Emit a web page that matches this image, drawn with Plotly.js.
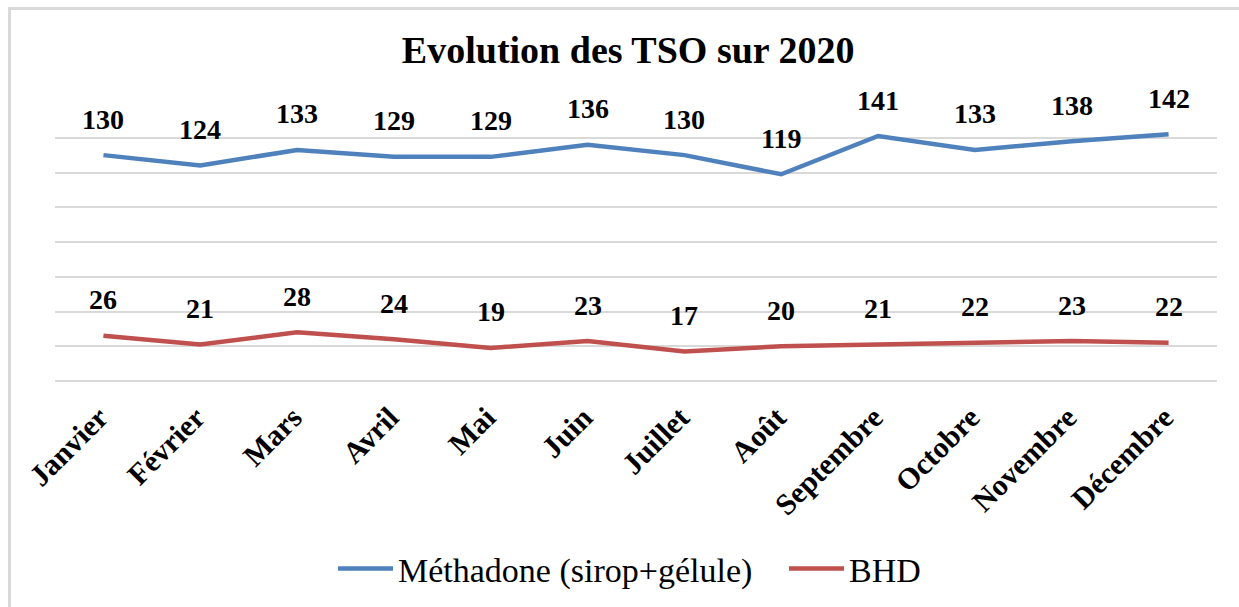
<!DOCTYPE html>
<html>
<head>
<meta charset="utf-8">
<script src="https://cdn.plot.ly/plotly-3.0.1.min.js"></script>
<style>
  body { margin: 0; background: #fff; }
  #myDiv { position: absolute; left: 0; top: 0; width: 1239px; height: 607px; }
  #frame { position: absolute; left: 8px; top: 7px; width: 1300px; height: 700px;
           border-left: 3px solid #d9d9d9; border-top: 3px solid #d9d9d9; pointer-events: none; }
</style>
</head>
<body>
<div id="myDiv"></div>
<div id="frame"></div>
<script>
var months = ["Janvier", "Février", "Mars", "Avril", "Mai", "Juin", "Juillet",
  "Août", "Septembre", "Octobre", "Novembre", "Décembre"];
var methadone = [130, 124, 133, 129, 129, 136, 130, 119, 141, 133, 138, 142];
var bhd = [26, 21, 28, 24, 19, 23, 17, 20, 21, 22, 23, 22];

var serif = "Liberation Serif";

var trace1 = {
  x: months,
  y: methadone,
  name: "Méthadone (sirop+gélule)",
  type: "scatter",
  mode: "lines",
  line: { color: "#4f81bd", width: 4.5 },
};

var trace2 = {
  x: months,
  y: bhd,
  name: "BHD",
  type: "scatter",
  mode: "lines",
  line: { color: "#c0504d", width: 4.5 },
};

// value labels sit above each point
function labels(vals) {
  return vals.map(function (v, i) {
    return {
      x: months[i], y: v, text: "<b>" + v + "</b>",
      showarrow: false, yshift: 36, yanchor: "middle",
      font: { family: serif, size: 28, color: "#000" },
    };
  });
}

var layout = {
  width: 1239,
  height: 607,
  margin: { l: 55, r: 22, t: 103, b: 226 },
  paper_bgcolor: "rgba(0,0,0,0)",
  plot_bgcolor: "rgba(0,0,0,0)",
  title: {
    text: "<b>Evolution des TSO sur 2020</b>",
    font: { family: serif, size: 38, color: "#000" },
    x: 0.507, xref: "container", xanchor: "center",
    y: 1 - 50 / 607, yref: "container", yanchor: "middle",
  },
  xaxis: {
    type: "category",
    range: [-0.5, 11.5],
    showgrid: false, zeroline: false, showline: false,
    ticks: "", tickangle: -45,
    ticklabelstandoff: 12, ticklabelshift: -4,
    tickprefix: "<b>", ticksuffix: "</b>",
    tickfont: { family: serif, size: 30, color: "#000" },
  },
  yaxis: {
    range: [0, 160], dtick: 20,
    showticklabels: false,
    gridcolor: "#d9d9d9", gridwidth: 2,
    zeroline: true, zerolinecolor: "#d9d9d9", zerolinewidth: 2,
  },
  showlegend: true,
  legend: {
    orientation: "h",
    xref: "container", x: 333 / 1239, xanchor: "left",
    yref: "container", y: 1 - 569 / 607, yanchor: "middle",
    itemwidth: 55,
    entrywidth: 381,
    font: { family: serif, size: 34, color: "#000" },
  },
  annotations: labels(methadone).concat(labels(bhd)),
};

Plotly.newPlot("myDiv", [trace1, trace2], layout, { displayModeBar: false });
</script>
</body>
</html>
